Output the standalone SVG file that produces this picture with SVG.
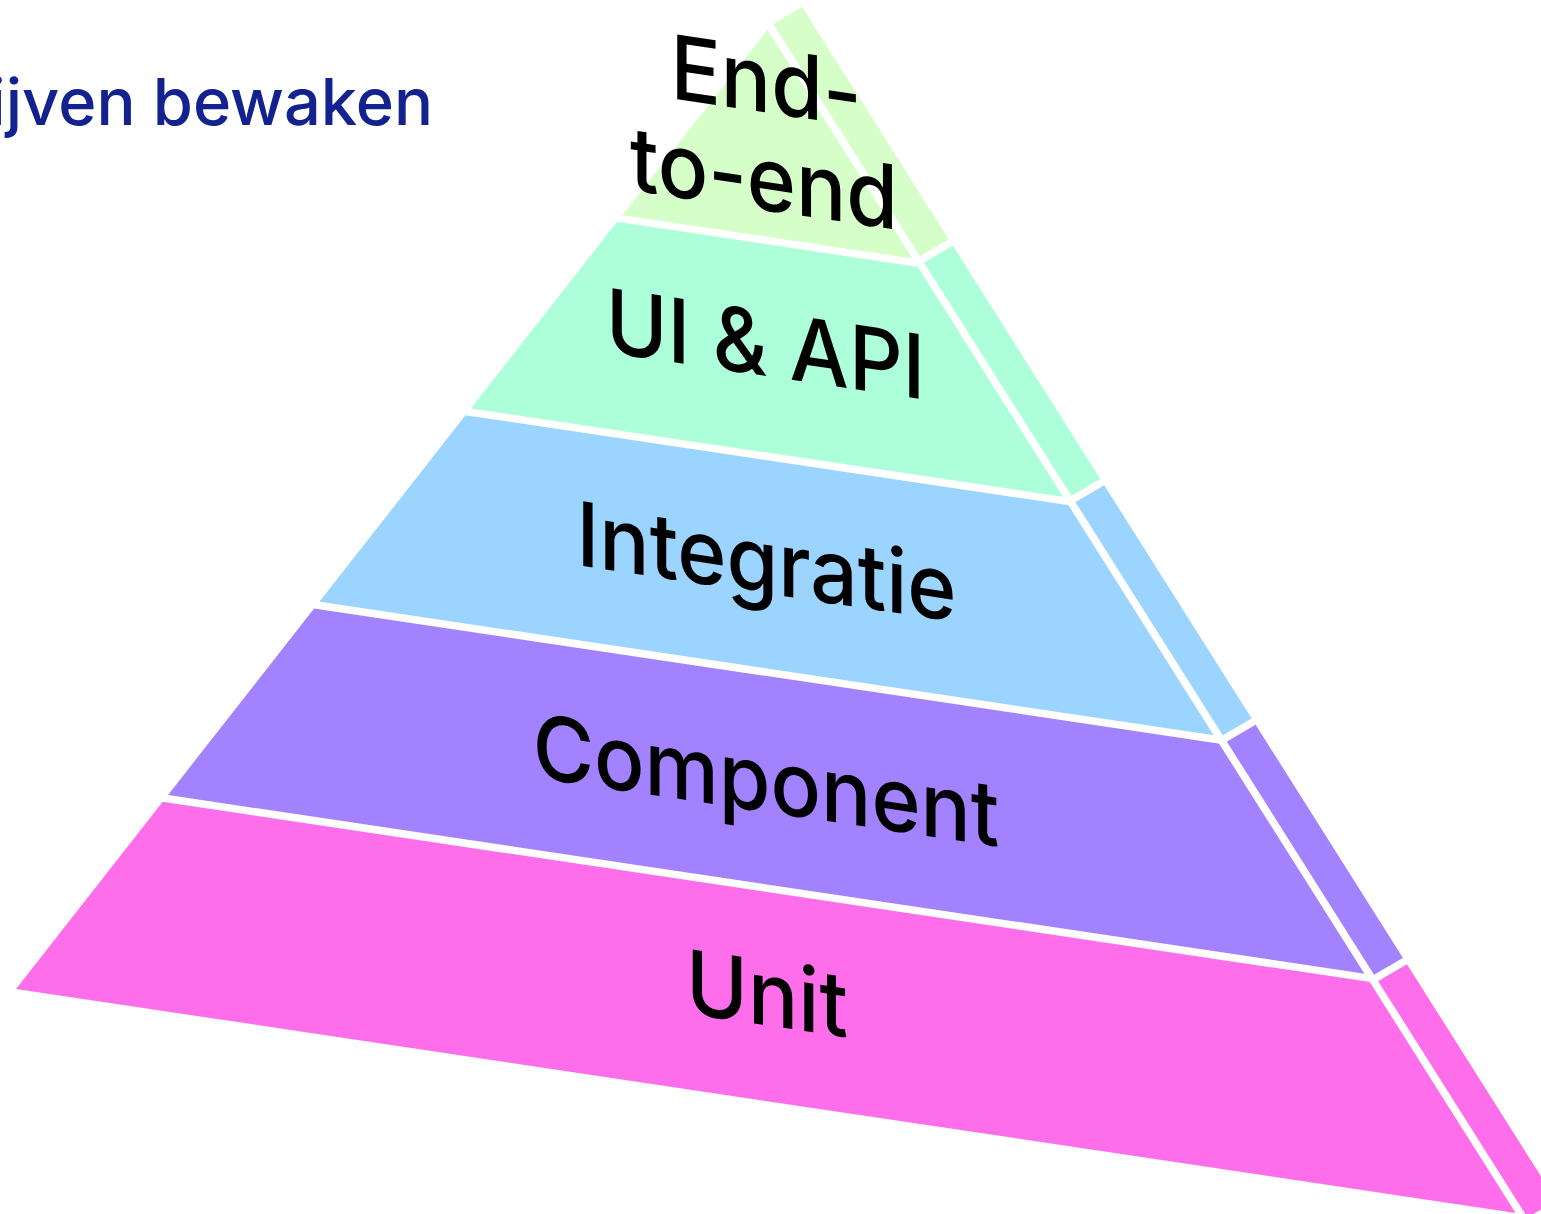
<svg xmlns="http://www.w3.org/2000/svg" width="1541" height="1214" viewBox="0 0 1541 1214">
<style>
.lbl{font-family:Inter,"Noto Sans","Liberation Sans",sans-serif;font-size:89px;font-weight:500;fill:#000;text-anchor:middle}
.head{font-family:Inter,"Noto Sans","Liberation Sans",sans-serif;font-size:65px;font-weight:500;fill:#13228F;text-anchor:end}
.sep{stroke:#fff;stroke-width:7.5;fill:none;stroke-linecap:butt}
.e2e{fill:#D5FEC8}.ui{fill:#ACFFD8}.int{fill:#9AD4FF}.comp{fill:#A382FF}.unit{fill:#FF6EEA}
</style>
<rect width="1541" height="1214" fill="#fff"/>
<text class="head" x="433" y="125">ijven bewaken</text>
<g id="layer-e2e">
<polygon class="e2e" points="767.6,30 915,262.6 619.7,218.5"/>
<polygon class="e2e" points="773.2,24 802,7 950.8,242.5 922,259.4"/>
</g>
<g id="layer-ui">
<polygon class="ui" points="619.7,218.5 915,262.6 1065.7,501 468.2,411.8"/>
<polygon class="ui" points="922,259.4 950.8,242.5 1102.2,482 1073.4,498.9"/>
</g>
<g id="layer-integratie">
<polygon class="int" points="468.2,411.8 1065.7,501 1216.4,739.4 316.8,605.1"/>
<polygon class="int" points="1073.4,498.9 1102.2,482 1253.6,721.5 1224.8,738.4"/>
</g>
<g id="layer-component">
<polygon class="comp" points="316.8,605.1 1216.4,739.4 1367,977.8 165.3,798.4"/>
<polygon class="comp" points="1224.8,738.4 1253.6,721.5 1404.9,961 1376.1,977.9"/>
</g>
<g id="layer-unit">
<polygon class="unit" points="165.3,798.4 1367,977.8 1515.6,1212.9 16,989"/>
<polygon class="unit" points="1376.1,977.9 1404.9,961 1556.3,1200.5 1527.5,1217.4"/>
</g>
<g id="connectors">
<line class="sep" x1="615.7" y1="217.9" x2="919" y2="263.2"/>
<line class="sep" x1="464.2" y1="411.2" x2="1069.7" y2="501.6"/>
<line class="sep" x1="312.8" y1="604.5" x2="1220.4" y2="740"/>
<line class="sep" x1="161.3" y1="797.8" x2="1371" y2="978.4"/>
<line class="sep" x1="954.3" y1="240.5" x2="918.5" y2="261.4"/>
<line class="sep" x1="1105.7" y1="480" x2="1069.9" y2="500.9"/>
<line class="sep" x1="1257.1" y1="719.5" x2="1221.3" y2="740.4"/>
<line class="sep" x1="1408.4" y1="959" x2="1372.6" y2="979.9"/>
</g>
<g id="labels">
<text class="lbl" transform="translate(766,80) skewY(8.47) scale(0.94,1)" y="32.4">End-</text>
<text class="lbl" transform="translate(764,177.6) skewY(8.47) scale(0.94,1)" y="32.4">to-end</text>
<text class="lbl" transform="translate(765.5,343.4) skewY(8.47) scale(0.94,1)" y="32.4">UI &amp; API</text>
<text class="lbl" transform="translate(766.5,561) skewY(8.47) scale(0.94,1)" y="32.4">Integratie</text>
<text class="lbl" transform="translate(766,779.5) skewY(8.47) scale(0.94,1)" y="32.4">Component</text>
<text class="lbl" transform="translate(767,993) skewY(8.47) scale(0.94,1)" y="32.4">Unit</text>
</g>
</svg>
